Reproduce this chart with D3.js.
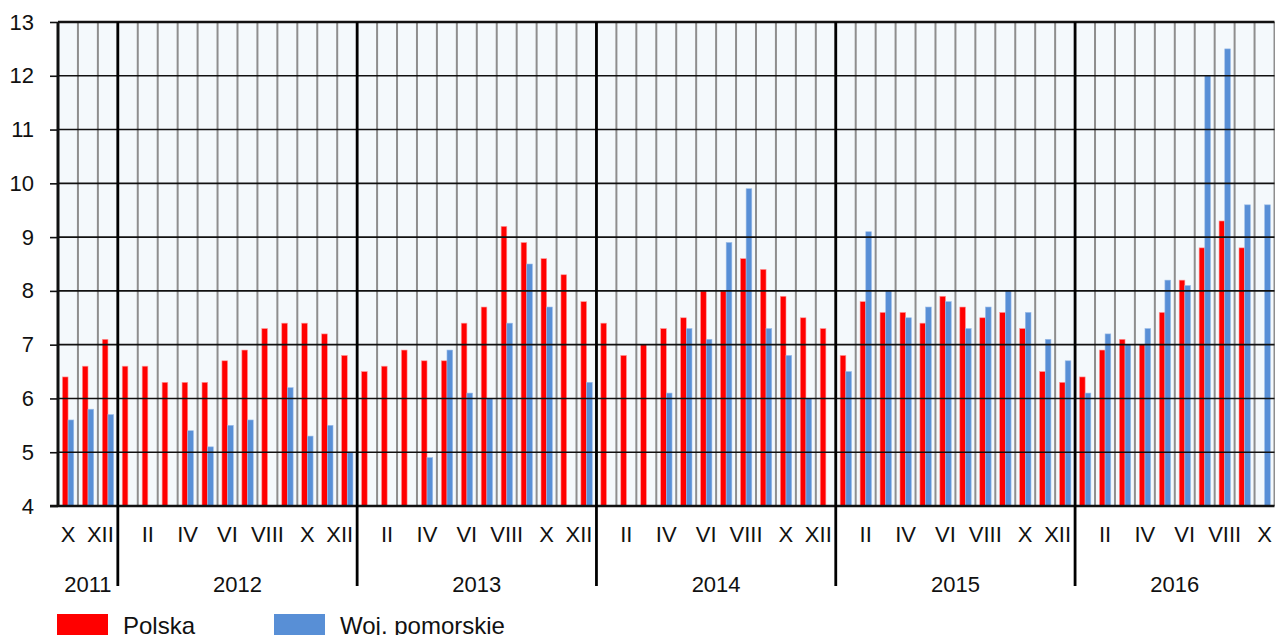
<!DOCTYPE html>
<html>
<head>
<meta charset="utf-8">
<script src="https://cdn.jsdelivr.net/npm/d3@7"></script>
<style>
	body { margin: 0; background: #fff; }
	text { font-family: "Liberation Sans", Arial, sans-serif; fill: #111; }
</style>
</head>
<body>
<div id="container"></div>
<script>
var margin = ({top: 22, right: 0.5, bottom: 129, left: 58});
var width = 1275, height = 635;

// period: X 2011 .. X 2016
var years = [2011, 2012, 2013, 2014, 2015, 2016];
var firstMonth = 10, lastMonth = 10;
var roman = ['I', 'II', 'III', 'IV', 'V', 'VI', 'VII', 'VIII', 'IX', 'X', 'XI', 'XII'];
var yTicks = [4, 5, 6, 7, 8, 9, 10, 11, 12, 13];
var seriesNames = ['Polska', 'Woj. pomorskie'];
var seriesColors = ['#ff0000', '#588fd6'];

var polska = [6.4, 6.6, 7.1,
	6.6, 6.6, 6.3, 6.3, 6.3, 6.7, 6.9, 7.3, 7.4, 7.4, 7.2, 6.8,
	6.5, 6.6, 6.9, 6.7, 6.7, 7.4, 7.7, 9.2, 8.9, 8.6, 8.3, 7.8,
	7.4, 6.8, 7.0, 7.3, 7.5, 8.0, 8.0, 8.6, 8.4, 7.9, 7.5, 7.3,
	6.8, 7.8, 7.6, 7.6, 7.4, 7.9, 7.7, 7.5, 7.6, 7.3, 6.5, 6.3,
	6.4, 6.9, 7.1, 7.0, 7.6, 8.2, 8.8, 9.3, 8.8, null];

var pomorskie = [5.6, 5.8, 5.7,
	null, null, null, 5.4, 5.1, 5.5, 5.6, null, 6.2, 5.3, 5.5, 5.0,
	null, null, null, 4.9, 6.9, 6.1, 6.0, 7.4, 8.5, 7.7, null, 6.3,
	null, null, null, 6.1, 7.3, 7.1, 8.9, 9.9, 7.3, 6.8, 6.0, null,
	6.5, 9.1, 8.0, 7.5, 7.7, 7.8, 7.3, 7.7, 8.0, 7.6, 7.1, 6.7,
	6.1, 7.2, 7.0, 7.3, 8.2, 8.1, 12.0, 12.5, 9.6, 9.6];

var months = [];
years.forEach(function(yr, yi) {
	var m0 = yi == 0 ? firstMonth : 1;
	var m1 = yi == years.length - 1 ? lastMonth : 12;
	for (var m = m0; m <= m1; m++) months.push({year: yr, month: m, key: yr + '-' + m});
});

var data = months.map(function(d, i) {
	return {key: d.key, year: d.year, month: d.month, values: [polska[i], pomorskie[i]]};
});

var svg = d3.select('div#container')
	.append('svg')
	.attr('width', width)
	.attr('height', height);

var x0 = d3.scaleBand()
	.domain(months.map(d => d.key))
	.range([margin.left, width - margin.right])
	.padding(0);

var x1 = d3.scaleBand()
	.domain([0, 1])
	.range([x0.bandwidth() * 0.22, x0.bandwidth() * 0.79])
	.padding(0);

var y = d3.scaleLinear()
	.domain([4, 13])
	.range([height - margin.bottom, margin.top]);

var plotLeft = margin.left, plotRight = width - margin.right;
var yBottom = y(4), yTop = y(13);

// background
svg.append('rect')
	.attr('x', plotLeft)
	.attr('y', yTop)
	.attr('width', plotRight - plotLeft)
	.attr('height', yBottom - yTop)
	.attr('fill', '#f4f9fc');

// month grid lines
svg.append('g')
	.selectAll('line')
	.data(months.slice(1))
	.join('line')
	.attr('x1', d => x0(d.key))
	.attr('x2', d => x0(d.key))
	.attr('y1', yTop)
	.attr('y2', yBottom)
	.attr('stroke', '#8e8e8e')
	.attr('stroke-width', 2);

svg.append('line')
	.attr('x1', plotRight).attr('x2', plotRight)
	.attr('y1', yTop).attr('y2', yBottom)
	.attr('stroke', '#8e8e8e')
	.attr('stroke-width', 2);

// bars
var groups = svg.append('g')
	.selectAll('g')
	.data(data)
	.join('g')
	.attr('transform', d => 'translate(' + x0(d.key) + ',0)');

groups.selectAll('rect')
	.data(d => d.values.map((v, i) => ({i: i, v: v})).filter(e => e.v != null))
	.join('rect')
	.attr('x', e => x1(e.i))
	.attr('width', x1.bandwidth())
	.attr('y', e => y(e.v))
	.attr('height', e => yBottom - y(e.v))
	.attr('fill', e => seriesColors[e.i])
	.attr('stroke', e => e.i == 0 ? '#ff9a9a' : '#9cbde8')
	.attr('stroke-width', 0.6);

// horizontal grid lines + y axis
var yAxis = d3.axisLeft(y)
	.tickValues(yTicks)
	.tickSize(plotLeft - 50)
	.tickPadding(16);

var yg = svg.append('g')
	.attr('transform', 'translate(' + plotLeft + ',0)')
	.call(yAxis);
yg.select('.domain').remove();
yg.selectAll('line').attr('stroke', '#111').attr('stroke-width', 1.6);
yg.selectAll('text')
	.attr('font-size', '22px')
	.attr('fill', '#111')
	.style('font-family', '"Liberation Sans", Arial, sans-serif');

svg.append('g')
	.selectAll('line')
	.data(yTicks.slice(1))
	.join('line')
	.attr('x1', plotLeft)
	.attr('x2', plotRight)
	.attr('y1', d => y(d))
	.attr('y2', d => y(d))
	.attr('stroke', '#111')
	.attr('stroke-width', d => d == 13 ? 2.5 : 1.6);

// bottom axis line
svg.append('line')
	.attr('x1', 50).attr('x2', plotRight)
	.attr('y1', yBottom).attr('y2', yBottom)
	.attr('stroke', '#111')
	.attr('stroke-width', 2.5);

// left border
svg.append('line')
	.attr('x1', plotLeft).attr('x2', plotLeft)
	.attr('y1', yTop).attr('y2', yBottom)
	.attr('stroke', '#111')
	.attr('stroke-width', 3);

// year dividers
var yearStarts = months.filter((d, i) => i > 0 && d.month == 1);
svg.append('g')
	.selectAll('line')
	.data(yearStarts)
	.join('line')
	.attr('x1', d => x0(d.key))
	.attr('x2', d => x0(d.key))
	.attr('y1', yTop)
	.attr('y2', yBottom + 80)
	.attr('stroke', '#000')
	.attr('stroke-width', 2.8);

// month labels (even months)
var xAxis = d3.axisBottom(x0)
	.tickValues(months.filter(d => d.month % 2 == 0).map(d => d.key))
	.tickFormat(k => roman[+k.split('-')[1] - 1])
	.tickSize(0)
	.tickPadding(20);

var xg = svg.append('g')
	.attr('transform', 'translate(0,' + yBottom + ')')
	.call(xAxis);
xg.select('.domain').remove();
xg.selectAll('text')
	.attr('font-size', '22px')
	.attr('fill', '#111')
	.style('font-family', '"Liberation Sans", Arial, sans-serif');

// XII sits left of the year divider
xg.selectAll('.tick')
	.filter(k => k.split('-')[1] == '12')
	.select('text')
	.attr('text-anchor', 'end')
	.attr('x', x0.bandwidth() / 2 - 4);

// year labels
svg.append('g')
	.selectAll('text')
	.data(years)
	.join('text')
	.attr('x', yr => {
		var ms = months.filter(d => d.year == yr);
		return (x0(ms[0].key) + x0(ms[ms.length - 1].key) + x0.bandwidth()) / 2;
	})
	.attr('y', yBottom + 86)
	.attr('text-anchor', 'middle')
	.attr('font-size', '22px')
	.text(yr => yr);

// legend (cut by the bottom edge, as in the source picture)
var legendX = [57, 274];
var legend = svg.append('g')
	.selectAll('g')
	.data(seriesNames)
	.join('g')
	.attr('transform', (d, i) => 'translate(' + legendX[i] + ',614)');

legend.append('rect')
	.attr('width', 51)
	.attr('height', 24)
	.attr('fill', (d, i) => seriesColors[i]);

legend.append('text')
	.attr('x', 66)
	.attr('y', 20)
	.attr('font-size', '24px')
	.text(d => d);
</script>
</body>
</html>
